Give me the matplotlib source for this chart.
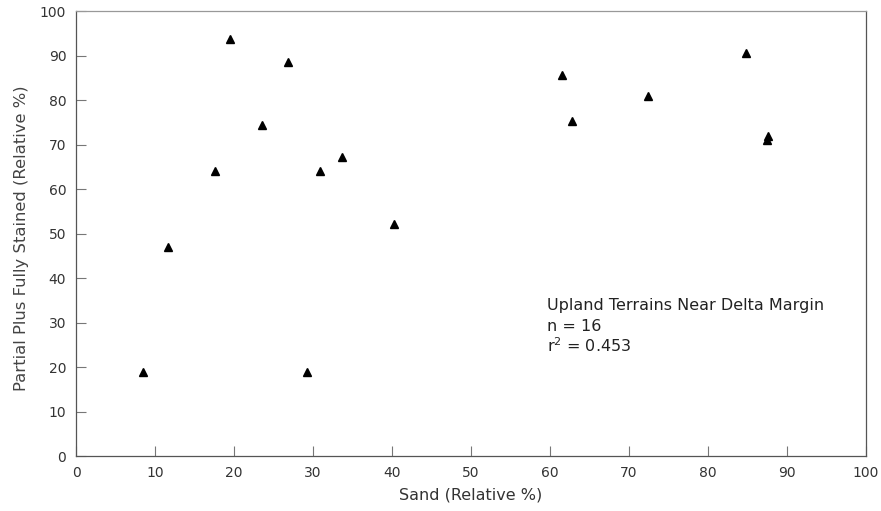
import matplotlib
matplotlib.use("Agg")
import matplotlib.pyplot as plt

# sand vs. partial plus fully stained (relative %)
sand = [8.5, 11.6, 17.6, 19.5, 23.6, 26.8, 29.2, 30.9, 33.7, 40.2,
        61.5, 62.8, 72.4, 84.8, 87.5, 87.6]
stained = [19.0, 47.1, 64.2, 93.8, 74.5, 88.6, 19.0, 64.2, 67.3, 52.2,
           85.8, 75.4, 81.0, 90.7, 71.2, 72.0]
ticks = list(range(0, 101, 10))
note_lines = ["Upland Terrains Near Delta Margin", "n = 16",
              "$\\mathregular{r^2}$ = 0.453"]

plt.rcParams['font.family'] = ['DejaVu Sans']

fig = plt.figure(figsize=(8.81, 5.11), dpi=100)
ax = fig.add_axes([0.0863, 0.1067, 0.8967, 0.8708])

ax.plot(sand, stained, linestyle='none', marker='^', markersize=6,
        color='black')

ax.set_xlim(0, 100)
ax.set_ylim(0, 100)
ax.set_xticks(ticks)
ax.set_yticks(ticks)
ax.tick_params(direction='in', length=7, width=0.8, color='#777777',
               labelsize=10, labelcolor='#333333', pad=7)

for side in ['left', 'bottom', 'right']:
    ax.spines[side].set_color('#555555')
    ax.spines[side].set_linewidth(0.9)
ax.spines['top'].set_color('#999999')
ax.spines['top'].set_linewidth(0.9)

ax.set_xlabel("Sand (Relative %)", fontsize=11.5, color='#333333', labelpad=5)
ax.set_ylabel("Partial Plus Fully Stained (Relative %)", fontsize=11.8,
              color='#444444')
ax.yaxis.set_label_coords(-0.0595, 0.49)

# annotation block, one line at a time
for txt, yy in zip(note_lines, [34.0, 29.3, 24.8]):
    ax.text(59.6, yy, txt, fontsize=11.5, color='#222222',
            va='center', ha='left')

plt.savefig("out.png", dpi=100)
